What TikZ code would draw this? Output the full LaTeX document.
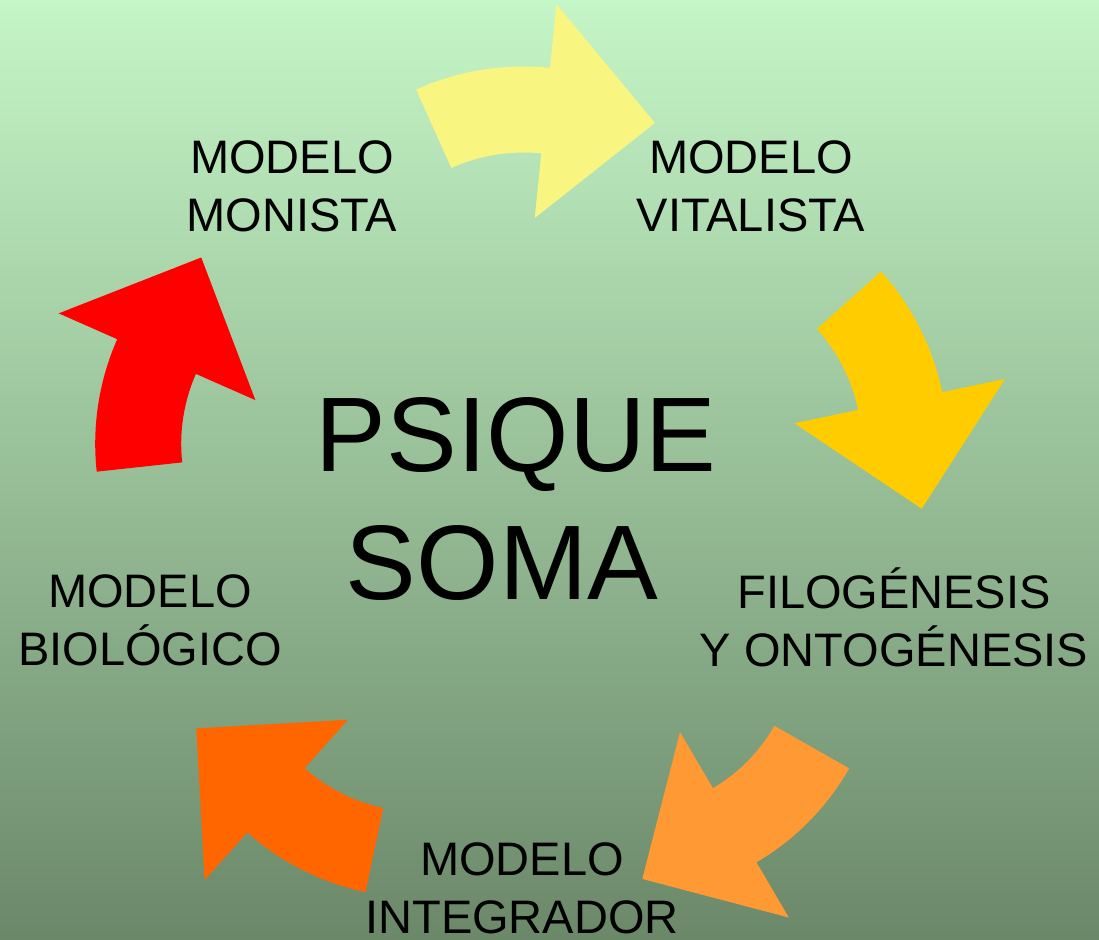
\documentclass[tikz,border=0pt]{standalone}
\usepackage{fontspec}
\setmainfont{Liberation Sans}
\usetikzlibrary{calc}
\definecolor{bgtop}{RGB}{197,246,199}
\definecolor{bgbot}{RGB}{107,136,105}
\definecolor{arrred}{RGB}{255,0,0}
\definecolor{arryel}{RGB}{248,245,128}
\definecolor{arrgold}{RGB}{255,204,0}
\definecolor{arrlor}{RGB}{255,153,51}
\definecolor{arrdor}{RGB}{255,102,0}

\begin{document}
\begin{tikzpicture}[x=1pt,y=-1pt,
  lbl/.style={font=\fontsize{47}{58}\selectfont, align=center, anchor=base, inner sep=0pt},
  big/.style={font=\fontsize{106}{128}\selectfont, anchor=base, inner sep=0pt}]
\useasboundingbox (0,0) rectangle (1099,939);
\shade[top color=bgtop, bottom color=bgbot] (0,0) rectangle (1099,939);
% curved arrows: centre x / centre y / tail angle / outer radius / colour
\foreach \cx/\cy/\a/\R/\col in {354.2/443.7/173.8/259/arrred, 523.5/328.5/245.8/262/arryel,
    686.4/446.1/318.1/261.5/arrgold, 627.4/642.4/29.6/255/arrlor, 417.9/641.5/101.8/256/arrdor}{
  \pgfmathsetmacro\hd{\a+30}
  \pgfmathsetmacro\ri{\R-86}
  \fill[\col, shift={(\cx,\cy)}] (\a:\R) arc[start angle=\a, end angle=\hd, radius=\R]
    -- ({\hd}:{\R+64}) -- ({\hd+26.8}:{\R-18}) -- ({\hd}:{\R-151})
    -- ({\hd}:{\ri}) arc[start angle=\hd, end angle=\a, radius=\ri] -- cycle;
}
% labels (anchored at the baseline of their last line)
\node[lbl] (monista) at (292,231) {MODELO\\MONISTA};
\node[lbl] (vitalista) at (751,231) {MODELO\\VITALISTA};
\node[lbl] (biologico) at (150,665) {MODELO\\BIOLÓGICO};
\node[lbl] (filogenesis) at (894,666) {FILOGÉNESIS\\Y ONTOGÉNESIS};
\node[lbl] (integrador) at (522,933) {MODELO\\INTEGRADOR};
\node[big] (psique) at (516,471) {PSIQUE};
\node[big] (soma) at (502,599) {SOMA};
\end{tikzpicture}
\end{document}
